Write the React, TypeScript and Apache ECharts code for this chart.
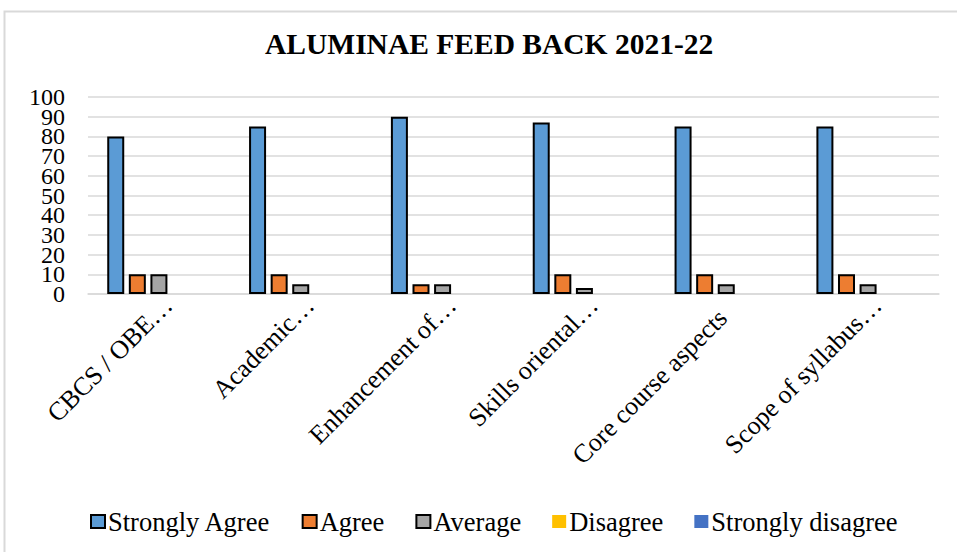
import React, { useEffect, useRef } from "react";
import * as echarts from "echarts";

const categories = [
  "CBCS / OBE…",
  "Academic…",
  "Enhancement of…",
  "Skills oriental…",
  "Core course aspects",
  "Scope of syllabus…",
];
const stronglyAgree = [80, 85, 90, 87, 85, 85];
const agree = [10, 10, 5, 10, 10, 10];
const average = [10, 5, 5, 3, 5, 5];
const disagree = [0, 0, 0, 0, 0, 0];
const stronglyDisagree = [0, 0, 0, 0, 0, 0];
const seriesNames = ["Strongly Agree", "Agree", "Average", "Disagree", "Strongly disagree"];
const titleText = "ALUMINAE FEED BACK 2021-22";
const evenTicks = [0, 20, 40, 60, 80, 100];
const oddTicks = [10, 30, 50, 70, 90];

const FONT = "'Liberation Serif', 'Times New Roman', serif";

export default function App() {
  const ref = useRef<HTMLDivElement>(null);
  useEffect(() => {
    if (!ref.current) return;
    const chart = echarts.init(ref.current, undefined, { renderer: "svg" });
    const bordered = (color: string) => ({ color, borderColor: "#000000", borderWidth: 2 });
    const plain = (color: string) => ({ color, borderWidth: 0 });
    const values = [stronglyAgree, agree, average, disagree, stronglyDisagree];
    const styles = [
      bordered("#5B9BD5"),
      bordered("#ED7D31"),
      bordered("#A5A5A5"),
      plain("#FFC000"),
      plain("#4472C4"),
    ];
    const yLabel = (vals: number[]) => ({
      margin: 23,
      fontFamily: FONT,
      fontSize: 24,
      color: "#000000",
      customValues: vals,
      showMinLabel: true,
      showMaxLabel: true,
    });
    chart.setOption({
      animation: false,
      backgroundColor: "#ffffff",
      title: {
        text: titleText,
        left: 265,
        top: 29,
        padding: 0,
        textStyle: { fontFamily: FONT, fontSize: 29.5, fontWeight: "bold", color: "#000000" },
      },
      graphic: [
        {
          type: "rect",
          shape: { x: 4.5, y: 11.5, width: 1000, height: 600 },
          style: { fill: "none", stroke: "#D9D9D9", lineWidth: 2 },
          silent: true,
        },
      ],
      legend: {
        top: 503,
        left: 85,
        itemWidth: 14,
        itemHeight: 13,
        itemGap: 31,
        icon: "rect",
        textStyle: { fontFamily: FONT, fontSize: 26.5, color: "#000000", padding: [0, 0, 0, -2] },
        data: seriesNames,
      },
      grid: { left: 88, right: 18, top: 97, bottom: 258, containLabel: false },
      xAxis: {
        type: "category",
        data: categories,
        axisLine: { show: true, lineStyle: { color: "#D9D9D9", width: 1.5 } },
        axisTick: { show: false },
        axisLabel: {
          rotate: 45,
          interval: 0,
          margin: -2,
          verticalAlign: "top",
          fontFamily: FONT,
          fontSize: 26,
          color: "#000000",
          formatter: (v: string) => (v.endsWith("…") ? v : v + "{s|}"),
          rich: { s: { width: 18 } },
        },
      },
      yAxis: [
        {
          type: "value",
          min: 0,
          max: 100,
          interval: 10,
          position: "left",
          axisLine: { show: false },
          axisTick: { show: false },
          splitLine: { lineStyle: { color: "#D9D9D9", width: 1.5 } },
          axisLabel: yLabel(evenTicks),
        },
        {
          type: "value",
          min: 0,
          max: 100,
          interval: 10,
          position: "left",
          offset: 0,
          axisLine: { show: false },
          axisTick: { show: false },
          splitLine: { show: false },
          axisLabel: yLabel(oddTicks),
        },
      ],
      series: seriesNames.map((name, i) => ({
        name,
        type: "bar",
        data: values[i],
        barWidth: 17,
        barGap: "27%",
        itemStyle: styles[i],
      })),
    });
    return () => chart.dispose();
  }, []);
  return (
    <div
      ref={ref}
      style={{ position: "fixed", left: 0, top: 0, width: 957, height: 552, background: "#fff" }}
    />
  );
}
